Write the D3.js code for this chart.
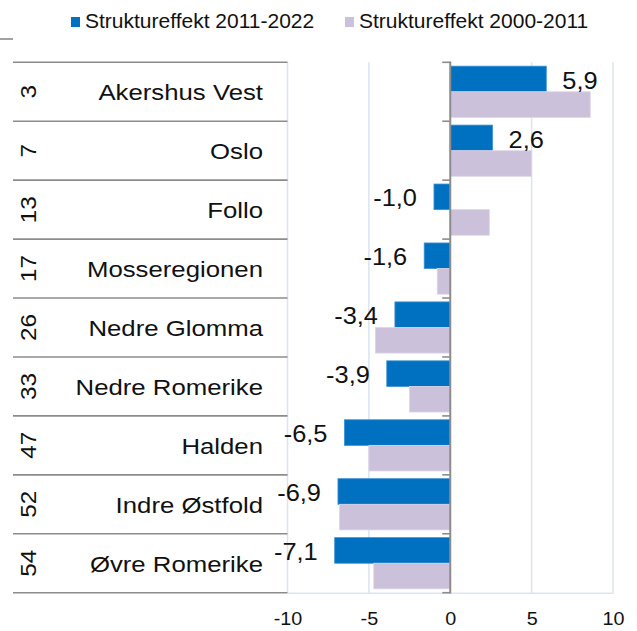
<!DOCTYPE html>
<html>
<head>
<meta charset="utf-8">
<script src="https://cdn.jsdelivr.net/npm/d3@7"></script>
<style>
  html, body { margin: 0; padding: 0; background: #fff; }
  svg { display: block; font-family: 'Liberation Sans', Arial, sans-serif; }
</style>
</head>
<body>
<svg id="chart" width="637" height="631"></svg>
<script>
// data
const regions = ['Akershus Vest', 'Oslo', 'Follo', 'Mosseregionen', 'Nedre Glomma',
  'Nedre Romerike', 'Halden', 'Indre Østfold', 'Øvre Romerike'];
const ranks = [3, 7, 13, 17, 26, 33, 47, 52, 54];
const effect20112022 = [5.9, 2.6, -1.0, -1.6, -3.4, -3.9, -6.5, -6.9, -7.1];
const effect20002011 = [8.6, 5.0, 2.4, -0.8, -4.6, -2.5, -5.0, -6.8, -4.7];
const seriesNames = ['Struktureffekt 2011-2022', 'Struktureffekt 2000-2011'];
const xTicks = [-10, -5, 0, 5, 10];

const BLUE = '#0070c0';
const LAVENDER = '#ccc1da';
const TABLE_GREY = '#8c8c8c';
const GRID = '#dbe4f1';

const svg = d3.select('#chart');

const x = d3.scaleLinear().domain([-10, 10]).range([287.5, 613]);
const y = d3.scaleBand().domain(regions).range([62.3, 592.7]);
const sub = d3.scaleBand().domain([0, 1]).range([0, y.bandwidth()]).paddingOuter(0.151);

const nb = d3.formatLocale({ decimal: ',', thousands: ' ', grouping: [3], currency: ['', ' kr'], minus: '-' });
const fmt = nb.format('.1f');

const rows = regions.map((name, i) => ({
  name,
  rank: ranks[i],
  values: [effect20112022[i], effect20002011[i]]
}));

// gridlines
svg.append('g')
  .selectAll('line')
  .data(xTicks.filter((d) => d !== 0))
  .join('line')
  .attr('x1', (d) => x(d)).attr('x2', (d) => x(d))
  .attr('y1', y.range()[0]).attr('y2', y.range()[1])
  .attr('stroke', GRID).attr('stroke-width', 1.5);

// bottom axis
const axis = svg.append('g')
  .attr('transform', `translate(0,${y.range()[1]})`)
  .call(d3.axisBottom(x).tickValues(xTicks).tickSize(0).tickPadding(20).tickFormat((d) => String(d)));
axis.select('.domain').attr('stroke', GRID).attr('stroke-width', 1.5);
axis.selectAll('text')
  .attr('font-size', 17.5)
  .attr('fill', '#111')
  .attr('font-family', "'Liberation Sans', Arial, sans-serif")
  .attr('transform', 'scale(1.13,1)')
  .attr('x', 0);

// table lines on the left
const boundaries = regions.map((r) => y(r)).concat([y.range()[1]]);
svg.append('g')
  .selectAll('line')
  .data(boundaries)
  .join('line')
  .attr('x1', 13).attr('x2', x(-10))
  .attr('y1', (d) => d).attr('y2', (d) => d)
  .attr('stroke', TABLE_GREY).attr('stroke-width', 1.6);

// stray short line top-left
svg.append('line')
  .attr('x1', 0).attr('x2', 13).attr('y1', 39).attr('y2', 39)
  .attr('stroke', TABLE_GREY).attr('stroke-width', 1.6);

// bars
const rowG = svg.append('g')
  .selectAll('g')
  .data(rows)
  .join('g')
  .attr('transform', (d) => `translate(0,${y(d.name)})`);

rowG.selectAll('rect')
  .data((d) => d.values.map((v, i) => ({ v, i })))
  .join('rect')
  .attr('x', (d) => x(Math.min(0, d.v)))
  .attr('width', (d) => Math.abs(x(d.v) - x(0)))
  .attr('y', (d) => sub(d.i))
  .attr('height', sub.bandwidth())
  .attr('fill', (d) => (d.i === 0 ? BLUE : LAVENDER))
  .attr('stroke', (d) => (d.i === 0 ? '#3b8fd4' : '#ddd5e7'))
  .attr('stroke-width', 0.8);

// value labels on the 2011-2022 series
rowG.append('text')
  .attr('transform', (d) => {
    const v = d.values[0];
    const tx = v >= 0 ? x(v) + 16 : x(v) - 17;
    return `translate(${tx},${sub(0) + sub.bandwidth() / 2 + 1.5}) scale(1.08,1)`;
  })
  .attr('text-anchor', (d) => (d.values[0] >= 0 ? 'start' : 'end'))
  .attr('dominant-baseline', 'central')
  .attr('font-size', 23.5)
  .attr('fill', '#111')
  .text((d) => fmt(d.values[0]));

// category labels
rowG.append('text')
  .attr('transform', `translate(263,${y.bandwidth() / 2 + 0.5}) scale(1.12,1)`)
  .attr('text-anchor', 'end')
  .attr('dominant-baseline', 'central')
  .attr('font-size', 23)
  .attr('fill', '#111')
  .text((d) => d.name);

// rank numbers, rotated
rowG.append('text')
  .attr('transform', `translate(28,${y.bandwidth() / 2}) rotate(-90) scale(1.08,1)`)
  .attr('text-anchor', 'middle')
  .attr('dominant-baseline', 'central')
  .attr('font-size', 22.5)
  .attr('fill', '#111')
  .text((d) => d.rank);

// zero line with category ticks
svg.append('g')
  .selectAll('line')
  .data(boundaries)
  .join('line')
  .attr('x1', x(0) - 8).attr('x2', x(0))
  .attr('y1', (d) => d).attr('y2', (d) => d)
  .attr('stroke', TABLE_GREY).attr('stroke-width', 1.6);
svg.append('line')
  .attr('x1', x(0)).attr('x2', x(0))
  .attr('y1', y.range()[0] - 0.8).attr('y2', y.range()[1] + 0.8)
  .attr('stroke', TABLE_GREY).attr('stroke-width', 2);

// legend
const legendX = [71, 345];
const legend = svg.append('g')
  .selectAll('g')
  .data(seriesNames)
  .join('g')
  .attr('transform', (d, i) => `translate(${legendX[i]},0)`);
legend.append('rect')
  .attr('x', 0).attr('y', 17)
  .attr('width', 9).attr('height', 10)
  .attr('fill', (d, i) => (i === 0 ? BLUE : LAVENDER));
legend.append('text')
  .attr('x', 14).attr('y', 28.3)
  .attr('font-size', 21)
  .attr('fill', '#111')
  .text((d) => d);
</script>
</body>
</html>
